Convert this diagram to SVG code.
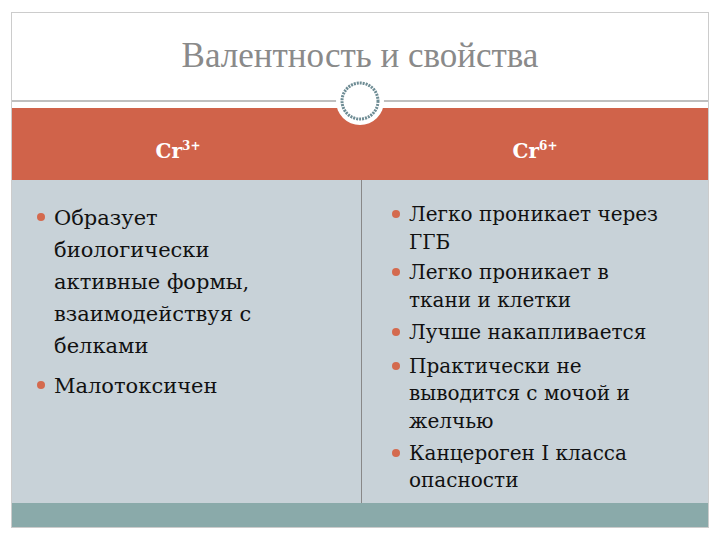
<svg xmlns="http://www.w3.org/2000/svg" width="720" height="540" viewBox="0 0 720 540">
<style>
text{font-family:"DejaVu Serif",serif}
.t{fill:#111}
.l{font-size:21px}
.r{font-size:20px}
.b{fill:#D46A4E}
.h{font-size:20px;fill:#fff;font-weight:bold}
</style>
<rect x="0" y="0" width="720" height="540" fill="#fff"/>
<rect x="11.5" y="12.5" width="697" height="515" fill="#fff" stroke="#ccc"/>
<g id="title"><text x="360" y="67" text-anchor="middle" style="font-family:'Liberation Serif',serif" font-size="35" fill="#8a8a8a">Валентность и свойства</text></g>
<line x1="12" y1="101" x2="708" y2="101" stroke="#aaa" stroke-width="1.5"/>
<g id="header">
<rect x="12" y="108" width="696" height="72" fill="#D0634A"/>
<text class="h" x="178" y="158" text-anchor="middle">Cr<tspan font-size="12" dy="-8">3+</tspan></text>
<text class="h" x="535" y="158" text-anchor="middle">Cr<tspan font-size="12" dy="-8">6+</tspan></text>
</g>
<g id="emblem">
<circle cx="360" cy="101" r="24" fill="#fff"/>
<circle cx="360" cy="101" r="18" fill="none" stroke="#6E8C94" stroke-width="3" stroke-dasharray="2 1"/>
</g>
<g id="body">
<rect x="12" y="180" width="696" height="323" fill="#C8D2D8"/>
<line x1="361.5" y1="180" x2="361.5" y2="503" stroke="#888" stroke-width="1"/>
<rect x="12" y="503" width="696" height="24" fill="#8AAAAA"/>
</g>
<g id="left">
<circle class="b" cx="41" cy="217" r="4"/>
<circle class="b" cx="41" cy="385" r="4"/>
<text class="t l" x="54" y="225">Образует</text>
<text class="t l" x="54" y="257">биологически</text>
<text class="t l" x="54" y="289">активные формы,</text>
<text class="t l" x="54" y="321">взаимодействуя с</text>
<text class="t l" x="54" y="353">белками</text>
<text class="t l" x="54" y="393">Малотоксичен</text>
</g>
<g id="right">
<circle class="b" cx="396" cy="214" r="4"/>
<circle class="b" cx="396" cy="272" r="4"/>
<circle class="b" cx="396" cy="332" r="4"/>
<circle class="b" cx="396" cy="366" r="4"/>
<circle class="b" cx="396" cy="453" r="4"/>
<text class="t r" x="409" y="221">Легко проникает через</text>
<text class="t r" x="409" y="249">ГГБ</text>
<text class="t r" x="409" y="279">Легко проникает в</text>
<text class="t r" x="409" y="307">ткани и клетки</text>
<text class="t r" x="409" y="339">Лучше накапливается</text>
<text class="t r" x="409" y="373">Практически не</text>
<text class="t r" x="409" y="400">выводится с мочой и</text>
<text class="t r" x="409" y="428">желчью</text>
<text class="t r" x="409" y="460">Канцероген I класса</text>
<text class="t r" x="409" y="487">опасности</text>
</g>
</svg>
